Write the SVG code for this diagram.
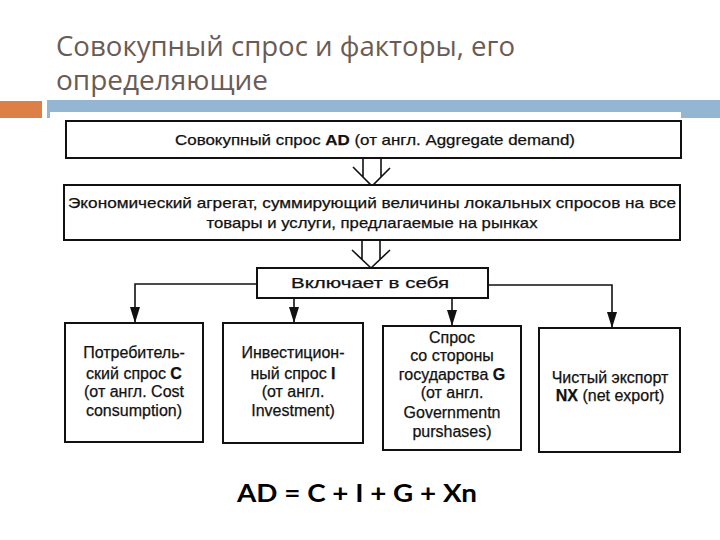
<svg xmlns="http://www.w3.org/2000/svg" width="720" height="540" viewBox="0 0 720 540">
  <defs>
    <style>
      .title { font-family: "Open Sans", "Noto Sans", "DejaVu Sans", sans-serif; font-size: 27px; fill: #6b5b55; }
      .box { fill: #ffffff; stroke: #111111; stroke-width: 2; }
      .t { font-family: "Liberation Sans", Arial, sans-serif; font-size: 15px; fill: #111111; stroke: #111111; stroke-width: 0.25; text-anchor: middle; }
      .s { font-size: 16px; }
      .b { font-weight: bold; }
      .conn { fill: none; stroke: #111111; stroke-width: 1.6; }
      .formula { font-family: Lato, "Open Sans", sans-serif; font-weight: bold; font-size: 24px; fill: #000000; text-anchor: middle; }
    </style>
    <marker id="ahd" markerUnits="userSpaceOnUse" markerWidth="16" markerHeight="10" refX="15" refY="5" orient="auto" viewBox="0 0 16 10">
      <path d="M0,0 L16,5 L0,10 Z" fill="#111111"/>
    </marker>
  </defs>

  <rect width="720" height="540" fill="#ffffff"/>

  <g id="title">
    <text class="title" x="56" y="56" textLength="459" lengthAdjust="spacingAndGlyphs">Совокупный спрос и факторы, его</text>
    <text class="title" x="56" y="90" textLength="212" lengthAdjust="spacingAndGlyphs">определяющие</text>
  </g>

  <g id="header-bars">
    <rect x="0" y="101" width="42" height="17" fill="#dd8047"/>
    <rect x="47" y="100" width="673" height="18" fill="#94b6d2"/>
    <rect x="50" y="112" width="631" height="360" fill="#ffffff"/>
  </g>

  <g id="connectors">
    <path class="conn" d="M363,158 V177 M381,158 V177 M353,167 L372,186 L390,168"/>
    <path class="conn" d="M362,240 V259 M380,240 V259 M352,250 L371,268 L390,250"/>
    <path class="conn" d="M257,284 H135 V322" marker-end="url(#ahd)"/>
    <path class="conn" d="M488,285 H612 V327" marker-end="url(#ahd)"/>
    <path class="conn" d="M294,298 V322" marker-end="url(#ahd)"/>
    <path class="conn" d="M452,298 V325" marker-end="url(#ahd)"/>
  </g>

  <g id="node-ad">
    <rect class="box" x="66" y="121" width="615" height="37"/>
    <text class="t" x="375" y="145" textLength="400" lengthAdjust="spacingAndGlyphs">Совокупный спрос <tspan class="b">AD</tspan> (от англ. Aggregate demand)</text>
  </g>

  <g id="node-aggregate">
    <rect class="box" x="64" y="185" width="616" height="55"/>
    <text class="t" x="372" y="208" textLength="608" lengthAdjust="spacingAndGlyphs">Экономический агрегат, суммирующий величины локальных спросов на все</text>
    <text class="t" x="372" y="228" textLength="331" lengthAdjust="spacingAndGlyphs">товары и услуги, предлагаемые на рынках</text>
  </g>

  <g id="node-includes">
    <rect class="box" x="257" y="268" width="231" height="30"/>
    <text class="t" x="370" y="288" textLength="158" lengthAdjust="spacingAndGlyphs">Включает в себя</text>
  </g>

  <g id="node-c">
    <rect class="box" x="65" y="323" width="138" height="119"/>
    <text class="t s" x="134" y="358">Потребитель-</text>
    <text class="t s" x="134" y="379">ский спрос <tspan class="b">C</tspan></text>
    <text class="t s" x="134" y="397">(от англ. Cost</text>
    <text class="t s" x="134" y="416">consumption)</text>
  </g>

  <g id="node-i">
    <rect class="box" x="223" y="323" width="140" height="120"/>
    <text class="t s" x="293" y="358">Инвестицион-</text>
    <text class="t s" x="293" y="379">ный спрос <tspan class="b">I</tspan></text>
    <text class="t s" x="293" y="397">(от англ.</text>
    <text class="t s" x="293" y="416">Investment)</text>
  </g>

  <g id="node-g">
    <rect class="box" x="383" y="326" width="138" height="124"/>
    <text class="t s" x="452" y="343">Спрос</text>
    <text class="t s" x="452" y="361">со стороны</text>
    <text class="t s" x="452" y="380">государства <tspan class="b">G</tspan></text>
    <text class="t s" x="452" y="398">(от англ.</text>
    <text class="t s" x="452" y="418">Governmentn</text>
    <text class="t s" x="452" y="437">purshases)</text>
  </g>

  <g id="node-nx">
    <rect class="box" x="539" y="328" width="141" height="124"/>
    <text class="t s" x="610" y="383">Чистый экспорт</text>
    <text class="t s" x="610" y="401"><tspan class="b">NX</tspan> (net export)</text>
  </g>

  <g id="formula">
    <text class="formula" x="357" y="502" textLength="240" lengthAdjust="spacingAndGlyphs">AD = C + I + G + Xn</text>
  </g>
</svg>
